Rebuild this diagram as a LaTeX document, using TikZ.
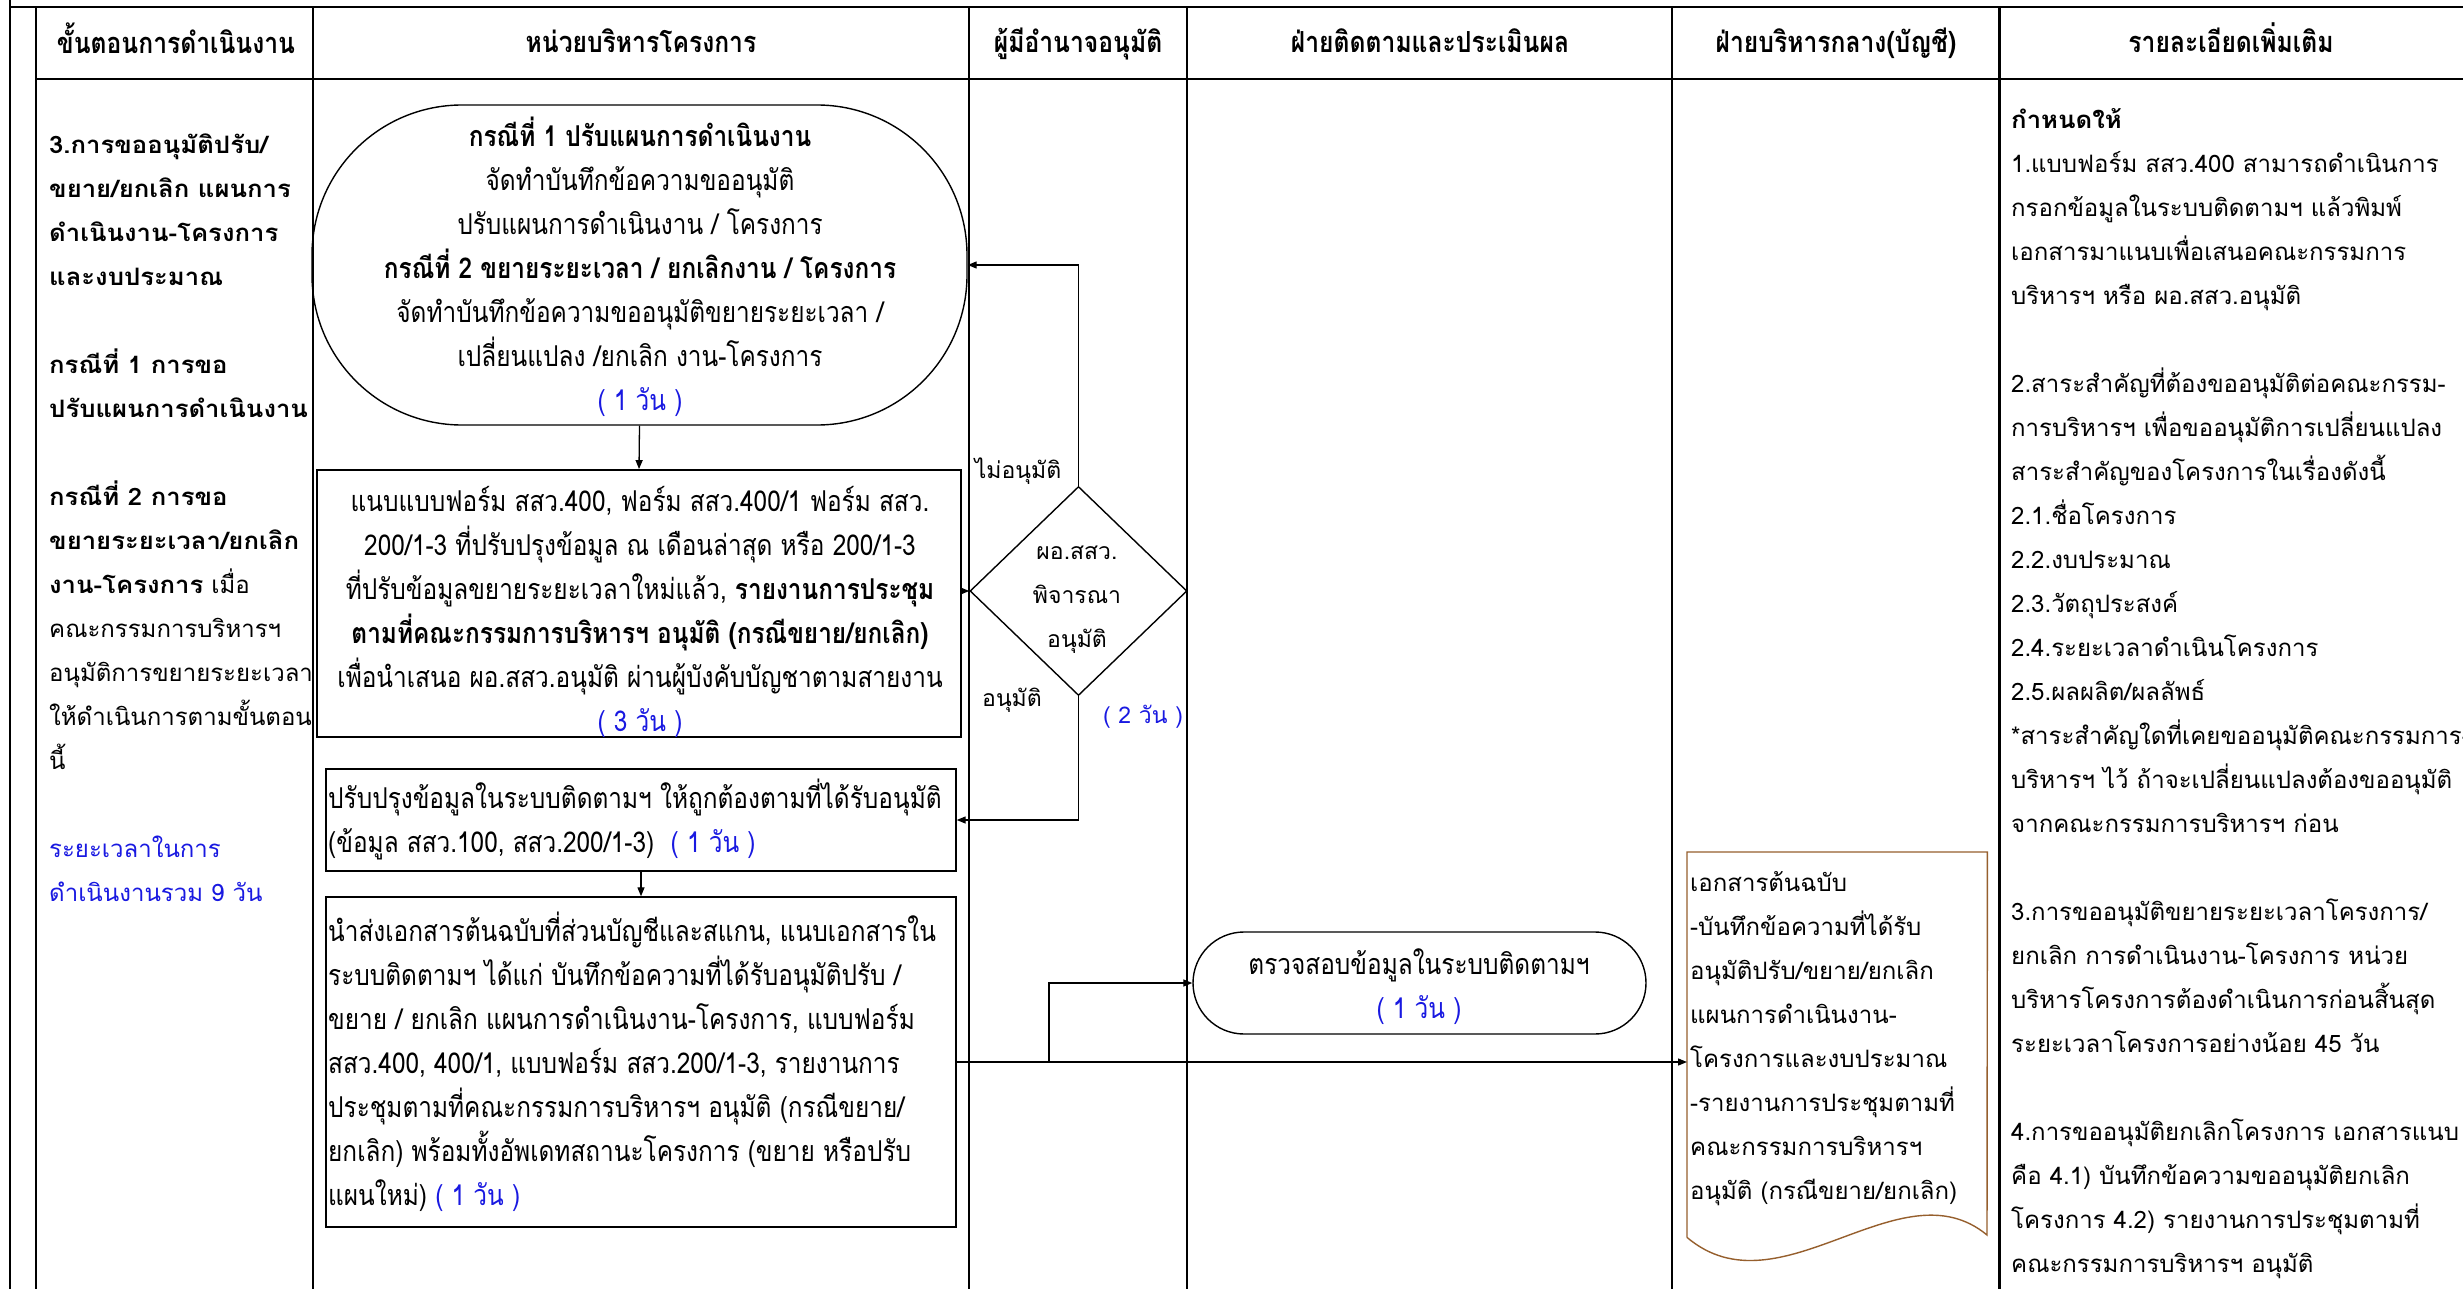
\documentclass[tikz,border=0pt]{standalone}
\usepackage{fontspec}
\usetikzlibrary{arrows.meta,shapes.geometric}
\newfontfamily\thaiW[Script=Thai,BoldFeatures={FakeStretch=1.07}]{Loma}
\newfontfamily\thaiN[Script=Thai,FakeStretch=0.85]{Loma}
\definecolor{dayblue}{RGB}{25,25,225}
\definecolor{docbrown}{RGB}{150,95,45}
\newcommand{\Lstr}{\rule[-16pt]{0pt}{46pt}}
\newcommand{\dayb}[1]{\textcolor{dayblue}{#1}}
\begin{document}
\begin{tikzpicture}[x=1pt,y=-1pt,
  wtxt/.style={inner sep=0pt, font={\thaiW\fontsize{24}{44}\selectfont\lineskiplimit=-1000pt}},
  dtxt/.style={inner sep=0pt, font={\thaiW\fontsize{23}{44}\selectfont\lineskiplimit=-1000pt}},
  ntxt/.style={inner sep=0pt, font={\thaiN\fontsize{28.7}{44}\selectfont\lineskiplimit=-1000pt}},
  hdr/.style={inner sep=0pt, font={\thaiN\bfseries\fontsize{29}{44}\selectfont}},
  shp/.style={draw, line width=1.4pt, inner sep=0pt},
  tabline/.style={line width=1.5pt},
  arr/.style={line width=1.3pt, -{Triangle[length=9pt,width=7pt]}},
]
\useasboundingbox (0,0) rectangle (2463,1289);
\clip (0,0) rectangle (2463,1289);
\fill[white] (0,0) rectangle (2463,1289);

% frame and table
\draw[line width=2pt] (10,0) -- (10,1289);
\draw[line width=2pt] (10,7) -- (2463,7);
\draw[tabline] (36,7) -- (36,1289);
\draw[line width=2pt] (36,79) -- (2463,79);
\draw[line width=2pt] (313,7) -- (313,1289);
\draw[tabline] (969,7) -- (969,1289);
\draw[tabline] (1187,7) -- (1187,1289);
\draw[tabline] (1672,7) -- (1672,1289);
\draw[line width=3pt] (1999,7) -- (1999,1289);

% headers
\node[hdr] (h1) at (176,46) {\Lstr ขั้นตอนการดำเนินงาน};
\node[hdr] (h2) at (641,46) {\Lstr หน่วยบริหารโครงการ};
\node[hdr] (h3) at (1078,46) {\Lstr ผู้มีอำนาจอนุมัติ};
\node[hdr] (h4) at (1430,46) {\Lstr ฝ่ายติดตามและประเมินผล};
\node[hdr] (h5) at (1836,46) {\Lstr ฝ่ายบริหารกลาง(บัญชี)};
\node[hdr] (h6) at (2231,46) {\Lstr รายละเอียดเพิ่มเติม};

% column 1
\node[wtxt, anchor=west, align=left] (c1) at (49,520) {%
\Lstr\textbf{3.การขออนุมัติปรับ/}\\
\Lstr\textbf{ขยาย/ยกเลิก แผนการ}\\
\Lstr\textbf{ดำเนินงาน-โครงการ}\\
\Lstr\textbf{และงบประมาณ}\\
\Lstr\\
\Lstr\textbf{กรณีที่ 1 การขอ}\\
\Lstr\textbf{ปรับแผนการดำเนินงาน}\\
\Lstr\\
\Lstr\textbf{กรณีที่ 2 การขอ}\\
\Lstr\textbf{ขยายระยะเวลา/ยกเลิก}\\
\Lstr\textbf{งาน-โครงการ} เมื่อ\\
\Lstr คณะกรรมการบริหารฯ\\
\Lstr อนุมัติการขยายระยะเวลา\\
\Lstr ให้ดำเนินการตามขั้นตอน\\
\Lstr นี้\\
\Lstr\\
\Lstr\dayb{ระยะเวลาในการ}\\
\Lstr\dayb{ดำเนินงานรวม 9 วัน}};

% shapes
\node[shp, rounded corners=150pt, minimum width=655pt, minimum height=320pt] (ov1) at (639.5,265) {};
\node[shp, line width=1.8pt, minimum width=644pt, minimum height=267pt] (bx2) at (639,603.5) {};
\node[shp, minimum width=630pt, minimum height=102pt] (bx3) at (641,820) {};
\node[shp, minimum width=630pt, minimum height=330pt] (bx4) at (641,1062) {};
\node[shp, diamond, minimum width=217pt, minimum height=209pt] (dec) at (1078.5,591) {};
\node[shp, rounded corners=51pt, minimum width=453pt, minimum height=102pt] (ov2) at (1419.5,983) {};
\node[inner sep=0pt, minimum width=300pt, minimum height=385pt, anchor=north west] (doc) at (1687,852) {};
\draw[docbrown, line width=1.4pt] (doc.south west) -- (doc.north west) -- (doc.north east) -- (1987,1235)
  .. controls (1900,1163) and (1780,1316) .. (doc.south west);

% texts in shapes
\node[ntxt, align=center] (t1) at (640,271) {%
\Lstr\textbf{กรณีที่ 1 ปรับแผนการดำเนินงาน}\\
\Lstr จัดทำบันทึกข้อความขออนุมัติ\\
\Lstr ปรับแผนการดำเนินงาน / โครงการ\\
\Lstr\textbf{กรณีที่ 2 ขยายระยะเวลา / ยกเลิกงาน / โครงการ}\\
\Lstr จัดทำบันทึกข้อความขออนุมัติขยายระยะเวลา /\\
\Lstr เปลี่ยนแปลง /ยกเลิก งาน-โครงการ\\
\Lstr\dayb{( 1 วัน )}};

\node[ntxt, align=center] (t2) at (640,614) {%
\Lstr แนบแบบฟอร์ม สสว.400, ฟอร์ม สสว.400/1 ฟอร์ม สสว.\\
\Lstr 200/1-3 ที่ปรับปรุงข้อมูล ณ เดือนล่าสุด หรือ 200/1-3\\
\Lstr ที่ปรับข้อมูลขยายระยะเวลาใหม่แล้ว, \textbf{รายงานการประชุม}\\
\Lstr\textbf{ตามที่คณะกรรมการบริหารฯ อนุมัติ (กรณีขยาย/ยกเลิก)}\\
\Lstr เพื่อนำเสนอ ผอ.สสว.อนุมัติ ผ่านผู้บังคับบัญชาตามสายงาน\\
\Lstr\dayb{( 3 วัน )}};

\node[ntxt, anchor=west, align=left] (t3) at (328,823) {%
\Lstr ปรับปรุงข้อมูลในระบบติดตามฯ ให้ถูกต้องตามที่ได้รับอนุมัติ\\
\Lstr (ข้อมูล สสว.100, สสว.200/1-3)\ \ \dayb{( 1 วัน )}};

\node[ntxt, anchor=west, align=left] (t4) at (328,1066) {%
\Lstr นำส่งเอกสารต้นฉบับที่ส่วนบัญชีและสแกน, แนบเอกสารใน\\
\Lstr ระบบติดตามฯ ได้แก่ บันทึกข้อความที่ได้รับอนุมัติปรับ /\\
\Lstr ขยาย / ยกเลิก แผนการดำเนินงาน-โครงการ, แบบฟอร์ม\\
\Lstr สสว.400, 400/1, แบบฟอร์ม สสว.200/1-3, รายงานการ\\
\Lstr ประชุมตามที่คณะกรรมการบริหารฯ อนุมัติ (กรณีขยาย/\\
\Lstr ยกเลิก) พร้อมทั้งอัพเดทสถานะโครงการ (ขยาย หรือปรับ\\
\Lstr แผนใหม่) \dayb{( 1 วัน )}};

\node[dtxt, align=center] (tdec) at (1077,596) {%
\Lstr ผอ.สสว.\\
\Lstr พิจารณา\\
\Lstr อนุมัติ};
\node[dtxt] (lno) at (1018,471) {\Lstr ไม่อนุมัติ};
\node[dtxt] (lyes) at (1012,699) {\Lstr อนุมัติ};
\node[dtxt, text=dayblue] (l2d) at (1143,716) {\Lstr( 2 วัน )};

\node[ntxt, align=center] (t5) at (1419,989) {%
\Lstr ตรวจสอบข้อมูลในระบบติดตามฯ\\
\Lstr\dayb{( 1 วัน )}};

\node[wtxt, anchor=west, align=left] (t6) at (1690,1038) {%
\Lstr เอกสารต้นฉบับ\\
\Lstr -บันทึกข้อความที่ได้รับ\\
\Lstr อนุมัติปรับ/ขยาย/ยกเลิก\\
\Lstr แผนการดำเนินงาน-\\
\Lstr โครงการและงบประมาณ\\
\Lstr -รายงานการประชุมตามที่\\
\Lstr คณะกรรมการบริหารฯ\\
\Lstr อนุมัติ (กรณีขยาย/ยกเลิก)};

% column 6
\node[wtxt, anchor=west, align=left] (c6) at (2011,693) {%
\Lstr\textbf{กำหนดให้}\\
\Lstr 1.แบบฟอร์ม สสว.400 สามารถดำเนินการ\\
\Lstr กรอกข้อมูลในระบบติดตามฯ แล้วพิมพ์\\
\Lstr เอกสารมาแนบเพื่อเสนอคณะกรรมการ\\
\Lstr บริหารฯ หรือ ผอ.สสว.อนุมัติ\\
\Lstr\\
\Lstr 2.สาระสำคัญที่ต้องขออนุมัติต่อคณะกรรม-\\
\Lstr การบริหารฯ เพื่อขออนุมัติการเปลี่ยนแปลง\\
\Lstr สาระสำคัญของโครงการในเรื่องดังนี้\\
\Lstr 2.1.ชื่อโครงการ\\
\Lstr 2.2.งบประมาณ\\
\Lstr 2.3.วัตถุประสงค์\\
\Lstr 2.4.ระยะเวลาดำเนินโครงการ\\
\Lstr 2.5.ผลผลิต/ผลลัพธ์\\
\Lstr *สาระสำคัญใดที่เคยขออนุมัติคณะกรรมการ-\\
\Lstr บริหารฯ ไว้ ถ้าจะเปลี่ยนแปลงต้องขออนุมัติ\\
\Lstr จากคณะกรรมการบริหารฯ ก่อน\\
\Lstr\\
\Lstr 3.การขออนุมัติขยายระยะเวลาโครงการ/\\
\Lstr ยกเลิก การดำเนินงาน-โครงการ หน่วย\\
\Lstr บริหารโครงการต้องดำเนินการก่อนสิ้นสุด\\
\Lstr ระยะเวลาโครงการอย่างน้อย 45 วัน\\
\Lstr\\
\Lstr 4.การขออนุมัติยกเลิกโครงการ เอกสารแนบ\\
\Lstr คือ 4.1) บันทึกข้อความขออนุมัติยกเลิก\\
\Lstr โครงการ 4.2) รายงานการประชุมตามที่\\
\Lstr คณะกรรมการบริหารฯ อนุมัติ};

% connectors
\draw[arr] (ov1.south) -- (bx2.north);
\draw[arr] (bx2.east |- dec.west) -- (dec.west);
\draw[arr] (dec.north) |- (ov1.east);
\draw[arr] (dec.south) |- (bx3.east);
\draw[arr] (bx3.south) -- (bx4.north);
\draw[arr] (bx4.east) -- (bx4.east -| doc.west);
\coordinate (br) at (1049,1062);
\draw[arr] (br) |- (ov2.west);
\end{tikzpicture}
\end{document}
